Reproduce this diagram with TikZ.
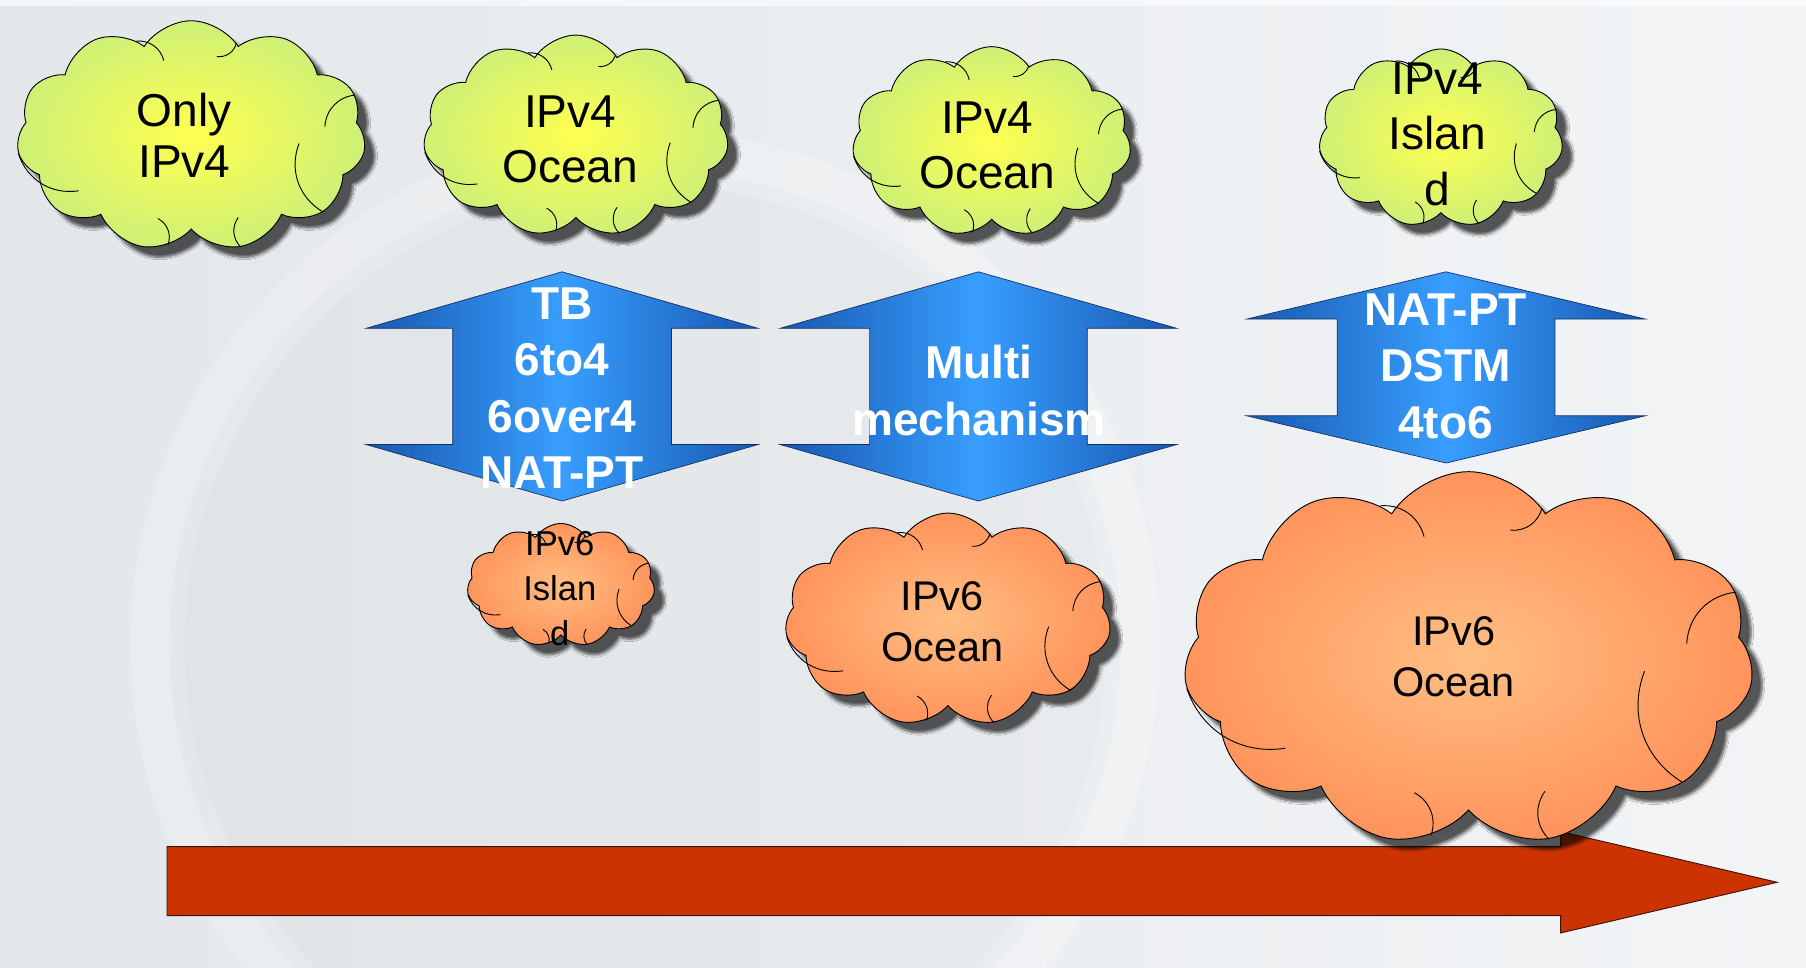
\documentclass[tikz,border=0pt]{standalone}
\usepackage{fontspec}
\setmainfont{Liberation Sans}
\usepackage{xcolor}
\usetikzlibrary{shapes.symbols,shadows.blur,calc}
\definecolor{bgleft}{RGB}{227,231,234}
\definecolor{bgright}{RGB}{242,244,246}
\definecolor{limeedge}{RGB}{206,240,118}
\definecolor{limecore}{RGB}{255,255,80}
\definecolor{peachedge}{RGB}{255,148,92}
\definecolor{peachcore}{RGB}{255,190,130}
\definecolor{bluedark}{RGB}{24,88,176}
\definecolor{bluelight}{RGB}{56,158,255}
\definecolor{blueline}{RGB}{18,50,100}
\definecolor{timered}{RGB}{204,51,0}
\definecolor{timeline}{RGB}{60,20,10}

\begin{document}
\begin{tikzpicture}[x=1pt,y=1pt,yscale=-1,xscale=1,
  cloudold/.style={cloud, cloud puffs=11, cloud puff arc=115, cloud ignores aspect, inner sep=0pt,
    draw=black, line width=0.8pt, inner color=limecore, outer color=limeedge,
    blur shadow={shadow xshift=9pt, shadow yshift=-9pt, shadow opacity=65, shadow blur steps=8}},
  cloudnew/.style={cloudold, inner color=peachcore, outer color=peachedge},
  crease/.style={draw=black, line width=0.8pt},
  cloudtext/.style={inner sep=0pt, align=center, text=black, font=\fontsize{40}{48}\selectfont},
  mechtext/.style={inner sep=0pt, align=center, text=white, font=\bfseries\fontsize{40}{49}\selectfont},
  mecharrow/.style={draw=blueline, line width=0.6pt,
    left color=bluedark, right color=bluedark, middle color=bluelight}]
\useasboundingbox (0,0) rectangle (1568,840);
% Background
\fill [left color=bgleft, right color=bgright] (0,0) rectangle (1568,840);
\fill [white, opacity=0.6] (0,0) rectangle (1568,5);
\draw [white, opacity=0.22, line width=34pt] (560,560) circle [radius=430];
\fill [black, opacity=0.015] (560,560) circle [radius=400];
%Red time arrow
\draw [draw=timeline, line width=0.8pt, fill=timered]
  (145,735) -- (1355,735) -- (1355,722) -- (1543,766) -- (1355,810) -- (1355,795) -- (145,795) -- cycle ;
%Double arrow 1
\draw [mecharrow] (488,236) -- (658,285) -- (583,285) -- (583,386) -- (658,386) -- (488,435)
  -- (318,386) -- (393,386) -- (393,285) -- (318,285) -- cycle ;
%Double arrow 2
\draw [mecharrow] (849.5,236) -- (1021.5,285) -- (944,285) -- (944,386) -- (1021.5,386) -- (849.5,435)
  -- (677.5,386) -- (755,386) -- (755,285) -- (677.5,285) -- cycle ;
%Double arrow 3
\draw [mecharrow] (1255.5,236) -- (1428.5,277) -- (1350,277) -- (1350,361) -- (1428.5,361) -- (1255.5,402)
  -- (1082.5,361) -- (1161,361) -- (1161,277) -- (1082.5,277) -- cycle ;
% Clouds
\node [cloudold, minimum width=303pt, minimum height=200pt] (v4only) at (166,118) {};
\node [cloudold, minimum width=265pt, minimum height=175pt] (v4oceanA) at (500,118) {};
\node [cloudold, minimum width=242pt, minimum height=165pt] (v4oceanB) at (861,123) {};
\node [cloudold, minimum width=212pt, minimum height=155pt] (v4island) at (1251,120) {};
\node [cloudnew, minimum width=163pt, minimum height=107pt] (v6island) at (487,508) {};
\node [cloudnew, minimum width=283pt, minimum height=185pt] (v6oceanA) at (823,538) {};
\node [cloudnew, minimum width=495pt, minimum height=325pt] (v6oceanB) at (1275,572) {};
% Cloud creases
\foreach \cl in {v4only,v4oceanA,v4oceanB,v4island,v6island,v6oceanA,v6oceanB}
  \foreach \a/\e/\f/\bd in {186/206/0.8/left, 120/110/0.74/right, 64/72/0.76/right, 14/4/0.8/left,
                            330/356/0.62/right, 258/248/0.74/left, 294/300/0.76/right}
    \draw [crease] (\cl.\a) to [bend \bd=40] ($(\cl.center)!\f!(\cl.\e)$);
% Text Node
\node [cloudtext, font=\fontsize{40}{45}\selectfont] (t4only) at (160,117.5) {Only\\IPv4};
\node [cloudtext] (t4oceanA) at (495,121) {IPv4\\Ocean};
\node [cloudtext] (t4oceanB) at (857,126) {IPv4\\Ocean};
\node [cloudtext] (t4island) at (1248,116.5) {IPv4\\Islan\\d};
\node [cloudtext, font=\fontsize{30}{39}\selectfont] (t6island) at (486,511) {IPv6\\Islan\\d};
\node [cloudtext, font=\fontsize{36}{44}\selectfont] (t6oceanA) at (818,540) {IPv6\\Ocean};
\node [cloudtext, font=\fontsize{36}{44}\selectfont] (t6oceanB) at (1262,570) {IPv6\\Ocean};
% Text Node
\node [mechtext] (mechA) at (488,337) {TB\\6to4\\6over4\\NAT-PT};
\node [mechtext] (mechB) at (850,339) {Multi\\mechanism};
\node [mechtext] (mechC) at (1255,318) {NAT-PT\\DSTM\\4to6};
\end{tikzpicture}
\end{document}
